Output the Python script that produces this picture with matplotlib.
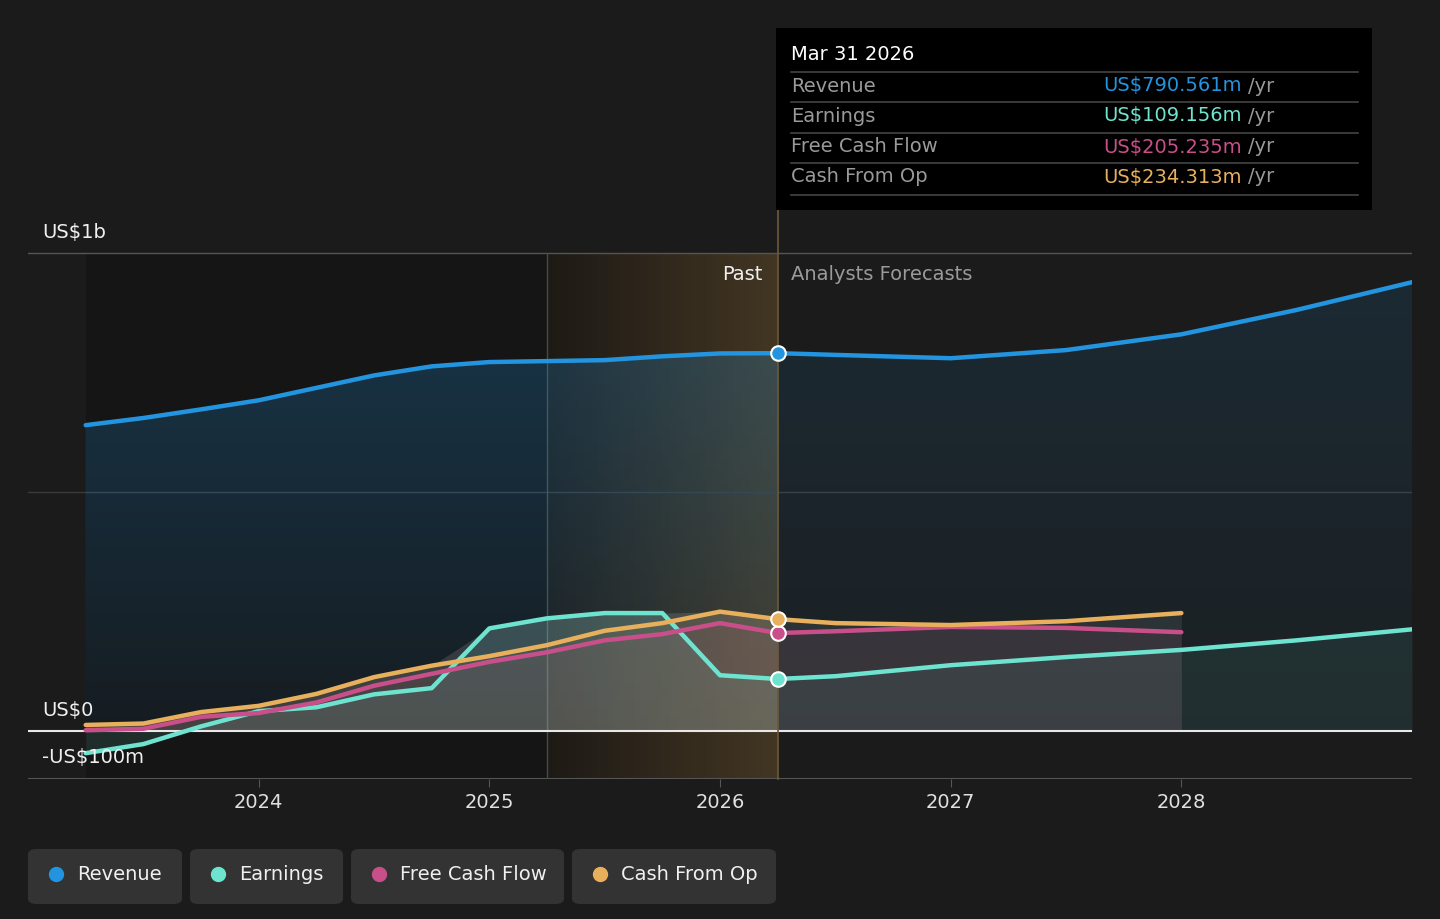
import numpy as np
import matplotlib
matplotlib.use("Agg")
import matplotlib.pyplot as plt
import matplotlib.transforms as mtrans
from matplotlib.patches import FancyBboxPatch, Rectangle
from matplotlib.colors import LinearSegmentedColormap

plt.rcParams['font.family'] = ['DejaVu Sans']

# ---------------- data (US$ millions) ----------------
past_t = [2023.25, 2023.5, 2023.75, 2024.0, 2024.25, 2024.5, 2024.75,
          2025.0, 2025.25, 2025.5, 2025.75, 2026.0, 2026.25]
rev_past = [640, 655, 673, 692, 718, 744, 763, 772, 774, 776, 784, 790, 790.561]
earn_past = [-46, -27, 10, 42, 50, 77, 90, 215, 236, 247, 247, 117, 109.156]
fcf_past = [2, 5, 30, 38, 60, 95, 120, 145, 165, 190, 203, 226, 205.235]
cfo_past = [13, 16, 40, 53, 78, 113, 137, 157, 180, 210, 226, 250, 234.313]

fc_t_long = [2026.25, 2026.5, 2027.0, 2027.5, 2028.0, 2028.5, 2029.0]
rev_fc = [790.561, 787, 780, 797, 830, 881, 939]
earn_fc = [109.156, 115, 138, 155, 170, 190, 213]
fc_t_short = [2026.25, 2026.5, 2027.0, 2027.5, 2028.0]
fcf_fc = [205.235, 209, 218, 216, 207]
cfo_fc = [234.313, 226, 222, 230, 247]

year_ticks = [2024, 2025, 2026, 2027, 2028]
y_label_vals = [1000, 0, -100]
y_label_txt = ["US$1b", "US$0", "-US$100m"]

tooltip_date = "Mar 31 2026"
tooltip_rows = [("Revenue", "US$790.561m"), ("Earnings", "US$109.156m"),
                ("Free Cash Flow", "US$205.235m"), ("Cash From Op", "US$234.313m")]
legend_names = ["Revenue", "Earnings", "Free Cash Flow", "Cash From Op"]

# ---------------- style ----------------
BG = "#1b1b1b"
C_REV = "#2394df"
C_EARN = "#6ee3cf"
C_FCF = "#c94f8a"
C_CFO = "#e8b05c"
colors = [C_REV, C_EARN, C_FCF, C_CFO]
FS = 14

W, H = 1440, 919
fig = plt.figure(figsize=(W / 100, H / 100), dpi=100, facecolor=BG)

def fx(px):
    return px / W

def fy(py):
    return 1 - py / H

ax = fig.add_axes([fx(28), fy(779), fx(1412) - fx(28), fy(210) - fy(779)])
ax.set_facecolor(BG)
ax.set_xlim(2023.0, 2029.0)
ax.set_ylim(-100, 1090)
for s in ax.spines.values():
    s.set_visible(False)
ax.set_yticks([])
ax.set_xticks(year_ticks)
ax.set_xticklabels([str(y) for y in year_ticks], color="#e0e0e0", fontsize=FS)
ax.tick_params(axis='x', length=6, color="#555555", pad=4)

split = 2026.25
hl_start = 2025.25

# past dark shading
ax.add_patch(Rectangle((2023.25, -100), hl_start - 2023.25, 1100,
                       facecolor="#000000", alpha=0.22, lw=0, zorder=0))
# highlight gradient
grad = np.linspace(0, 1, 256).reshape(1, -1)
cmap_hl = LinearSegmentedColormap.from_list("hl", ["#1e1a15", "#483a24"])
ax.imshow(grad, extent=[hl_start, split, -100, 1000], aspect='auto',
          cmap=cmap_hl, zorder=0.5, alpha=0.9)

# grid lines
ax.axhline(1000, color="#555555", lw=1, zorder=1)
ax.axhline(500, color="#3a3a3a", lw=1, zorder=1)
ax.axhline(-100, color="#555555", lw=1.5, zorder=1)
ax.plot([hl_start, hl_start], [-100, 1000], color="#4a4a40", lw=1, zorder=1)

# revenue fill with vertical gradient (clipped to the area)
vgrad = np.linspace(1, 0, 256).reshape(-1, 1)
cmap_rev = LinearSegmentedColormap.from_list("rv", [(0.137, 0.58, 0.875, 0.06), (0.137, 0.58, 0.875, 0.28)])
poly_p = ax.fill_between(past_t, rev_past, 0, color="none", lw=0)
im = ax.imshow(vgrad, extent=[2023.0, 2029.0, 0, 1000], aspect='auto', cmap=cmap_rev, zorder=2)
im.set_clip_path(poly_p.get_paths()[0], transform=ax.transData)
cmap_rev2 = LinearSegmentedColormap.from_list("rv2", [(0.137, 0.58, 0.875, 0.04), (0.137, 0.58, 0.875, 0.13)])
poly_f = ax.fill_between(fc_t_long, rev_fc, 0, color="none", lw=0)
im2 = ax.imshow(vgrad, extent=[2023.0, 2029.0, 0, 1000], aspect='auto', cmap=cmap_rev2, zorder=2)
im2.set_clip_path(poly_f.get_paths()[0], transform=ax.transData)

# small series fills (past)
mx_past = np.maximum(np.maximum(earn_past, fcf_past), cfo_past)
ax.fill_between(past_t, mx_past, 0, color="#ffffff", alpha=0.12, lw=0, zorder=2.1)
ax.fill_between(past_t, earn_past, 0, color=C_EARN, alpha=0.12, lw=0, zorder=2.2)
ax.fill_between(past_t, fcf_past, 0, color=C_FCF, alpha=0.07, lw=0, zorder=2.2)
ax.fill_between(past_t, cfo_past, 0, color=C_CFO, alpha=0.07, lw=0, zorder=2.2)
# forecast fills
ax.fill_between(fc_t_short, cfo_fc, 0, color="#ffffff", alpha=0.08, lw=0, zorder=2.1)
ax.fill_between(fc_t_short, fcf_fc, 0, color=C_FCF, alpha=0.07, lw=0, zorder=2.2)
ax.fill_between(fc_t_long, earn_fc, 0, color=C_EARN, alpha=0.08, lw=0, zorder=2.2)

# zero line
ax.axhline(0, color="#e8e8e8", lw=1.5, zorder=3)

# lines
lw = 3.2
for t, v, c in [(past_t, rev_past, C_REV), (fc_t_long, rev_fc, C_REV),
                (past_t, earn_past, C_EARN), (fc_t_long, earn_fc, C_EARN),
                (past_t, fcf_past, C_FCF), (fc_t_short, fcf_fc, C_FCF),
                (past_t, cfo_past, C_CFO), (fc_t_short, cfo_fc, C_CFO)]:
    ax.plot(t, v, color=c, lw=lw, solid_capstyle='round', solid_joinstyle='round', zorder=4)

# split line
ax.plot([split, split], [-100, 1090], color="#6b5a3a", lw=1.2, zorder=3.5, clip_on=False)

# markers
for v, c in [(rev_past[-1], C_REV), (earn_past[-1], C_EARN),
             (fcf_past[-1], C_FCF), (cfo_past[-1], C_CFO)]:
    ax.scatter([split], [v], s=110, color=c, edgecolor="white", linewidth=1.5, zorder=6)

# y labels (centre ~21 px above each reference line)
blend = mtrans.blended_transform_factory(fig.transFigure, ax.transData)
off = mtrans.ScaledTranslation(0, 21 / 100, fig.dpi_scale_trans)
for val, lab in zip(y_label_vals, y_label_txt):
    ax.text(fx(42), val, lab, transform=blend + off,
            color="#f0f0f0", fontsize=FS, va='center', ha='left', zorder=7)

# Past / forecast labels
fig.text(fx(762), fy(274), "Past", color="#f0f0f0", fontsize=FS, ha='right', va='center')
fig.text(fx(791), fy(274), "Analysts Forecasts", color="#9a9a9a", fontsize=FS, ha='left', va='center')

# tooltip
tip = Rectangle((fx(776), fy(210)), fx(1372) - fx(776), fy(28) - fy(210),
                transform=fig.transFigure, facecolor="#000000", edgecolor="none", zorder=10)
fig.add_artist(tip)
fig.text(fx(791), fy(55), tooltip_date, color="#ffffff", fontsize=FS, va='center', ha='left', zorder=11)
row_y = [86, 116, 147, 177]
sep_y = [72, 102, 133, 163, 195]
for yy in sep_y:
    fig.add_artist(plt.Line2D([fx(791), fx(1358)], [fy(yy), fy(yy)], transform=fig.transFigure,
                              color="#444444", lw=1.2, zorder=11))
for (name, val), yy, c in zip(tooltip_rows, row_y, colors):
    fig.text(fx(791), fy(yy), name, color="#9a9a9a", fontsize=FS, va='center', ha='left', zorder=11)
    t1 = fig.text(fx(1103), fy(yy), val, color=c, fontsize=FS, va='center', ha='left', zorder=11)
    fig.canvas.draw()
    bb = t1.get_window_extent()
    fig.text(bb.x1 / W + fx(6), fy(yy), "/yr", color="#9a9a9a", fontsize=FS, va='center', ha='left', zorder=11)

# legend buttons
boxes = [(28, 182), (190, 343), (351, 564), (572, 776)]
for (x0, x1), name, c in zip(boxes, legend_names, colors):
    p = FancyBboxPatch((fx(x0), fy(904)), fx(x1) - fx(x0), fy(849) - fy(904),
                       boxstyle="round,pad=0,rounding_size=0.006", transform=fig.transFigure,
                       facecolor="#333333", edgecolor="none", zorder=1)
    fig.add_artist(p)
    fig.add_artist(plt.Line2D([fx(x0 + 28)], [fy(874)], marker='o', markersize=10,
                              color=c, transform=fig.transFigure, zorder=2))
    fig.text(fx(x0 + 49), fy(874), name, color="#f0f0f0", fontsize=FS, va='center', ha='left', zorder=2)

fig.savefig("out.png", dpi=100, facecolor=BG)
